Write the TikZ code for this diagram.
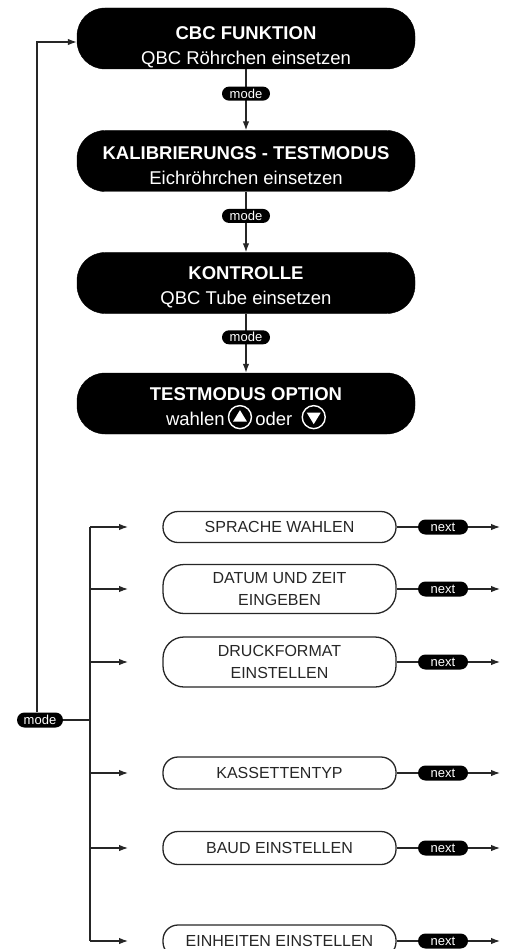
\documentclass[tikz,border=0pt]{standalone}
\usepackage{fontspec}
\setmainfont{Liberation Sans}
\usetikzlibrary{arrows.meta}
\newcommand{\circup}{\tikz[baseline=-8.5pt, x=1pt, y=1pt, line width=1.4pt, sharp corners]{\draw[white, fill=black] (0,0) circle (11.5); \fill[white] (-7,-4.5) -- (7,-4.5) -- (0,7) -- cycle;}}
\newcommand{\circdown}{\tikz[baseline=-8.5pt, x=1pt, y=1pt, line width=1.4pt, sharp corners]{\draw[white, fill=black] (0,0) circle (11.5); \fill[white] (-7,4.5) -- (7,4.5) -- (0,-7) -- cycle;}}
\newcommand{\topstrut}[1]{\rule{0pt}{#1}}
\tikzset{
 bbox/.style={fill=black, draw=black, rounded corners=28pt, minimum width=338pt, minimum height=61pt, text=white, align=center, inner sep=0pt, font=\fontsize{18.5}{25}\selectfont},
 wbox/.style={fill=white, draw=black!85, line width=1.3pt, rounded corners=15pt, minimum width=233pt, align=center, inner sep=0pt, font=\fontsize{16}{22}\selectfont, text=black!85},
 pill/.style={fill=black, rounded corners=7pt, minimum width=48pt, minimum height=14pt, inner sep=0pt, text=white, font=\fontsize{13}{13}\selectfont},
 npill/.style={pill, minimum width=50pt, minimum height=15pt, rounded corners=7.5pt},
 conn/.style={draw=black!85, line width=1.2pt},
 arr/.style={conn, -{Latex[length=9pt,width=6.5pt]}},
}
\begin{document}
\begin{tikzpicture}[x=1pt, y=-1pt]
\useasboundingbox (0,0) rectangle (509,949);
\clip (0,0) rectangle (509,949);
% black boxes
\node[bbox] (b1) at (246,38.5) {\topstrut{30pt}\textbf{CBC FUNKTION}\\QBC Röhrchen einsetzen};
\node[bbox] (b2) at (246,161) {\topstrut{23pt}\textbf{KALIBRIERUNGS - TESTMODUS}\\Eichröhrchen einsetzen};
\node[bbox] (b3) at (246,283) {\topstrut{21pt}\textbf{KONTROLLE}\\QBC Tube einsetzen};
\node[bbox] (b4) at (246,403.5) {\topstrut{23pt}\textbf{TESTMODUS OPTION}\\wahlen\,\circup\,oder\enspace\circdown};
\draw[arr] (b1) -- node[pill, pos=0.4] (m1) {mode} (b2);
\draw[arr] (b2) -- node[pill, pos=0.4] (m2) {mode} (b3);
\draw[arr] (b3) -- node[pill, pos=0.4] (m3) {mode} (b4);
% left loop
\node[npill, minimum width=46pt] (m0) at (40,720) {mode};
\coordinate (lp) at (37,42);
\draw[arr] (m0.north -| lp) -- (lp) -- (lp -| b1.west);
\coordinate (tt) at (90,527);
\coordinate (tb) at (90,941);
\draw[conn] (m0.east) -- (m0.east -| tt);
\draw[conn] (tt) -- (tb);
% white boxes
\node[wbox, minimum height=31pt] (w1) at (279.5,527) {SPRACHE WAHLEN};
\node[wbox, minimum height=49pt, rounded corners=21pt] (w2) at (279.5,589) {DATUM UND ZEIT\\EINGEBEN};
\node[wbox, minimum height=50pt, rounded corners=21pt] (w3) at (279.5,662) {DRUCKFORMAT\\EINSTELLEN};
\node[wbox, minimum height=32pt] (w4) at (279.5,773) {KASSETTENTYP};
\node[wbox, minimum height=33pt] (w5) at (279.5,848) {BAUD EINSTELLEN};
\node[wbox, minimum height=32pt] (w6) at (279.5,941) {EINHEITEN EINSTELLEN};
% next pills
\node[npill] (n1) at (443,527) {next};
\node[npill] (n2) at (443,589) {next};
\node[npill] (n3) at (443,662) {next};
\node[npill] (n4) at (443,773) {next};
\node[npill] (n5) at (443,848) {next};
\node[npill] (n6) at (443,941) {next};
% branch arrows
\foreach \i/\yy in {1/527, 2/589, 3/662, 4/773, 5/848, 6/941} {
  \coordinate (a\i) at (128,\yy);
  \coordinate (e\i) at (500,\yy);
  \draw[arr] (tt |- a\i) -- (a\i);
  \draw[conn] (w\i.east) -- (n\i.west);
  \draw[arr] (n\i.east) -- (e\i);
}
\end{tikzpicture}
\end{document}
